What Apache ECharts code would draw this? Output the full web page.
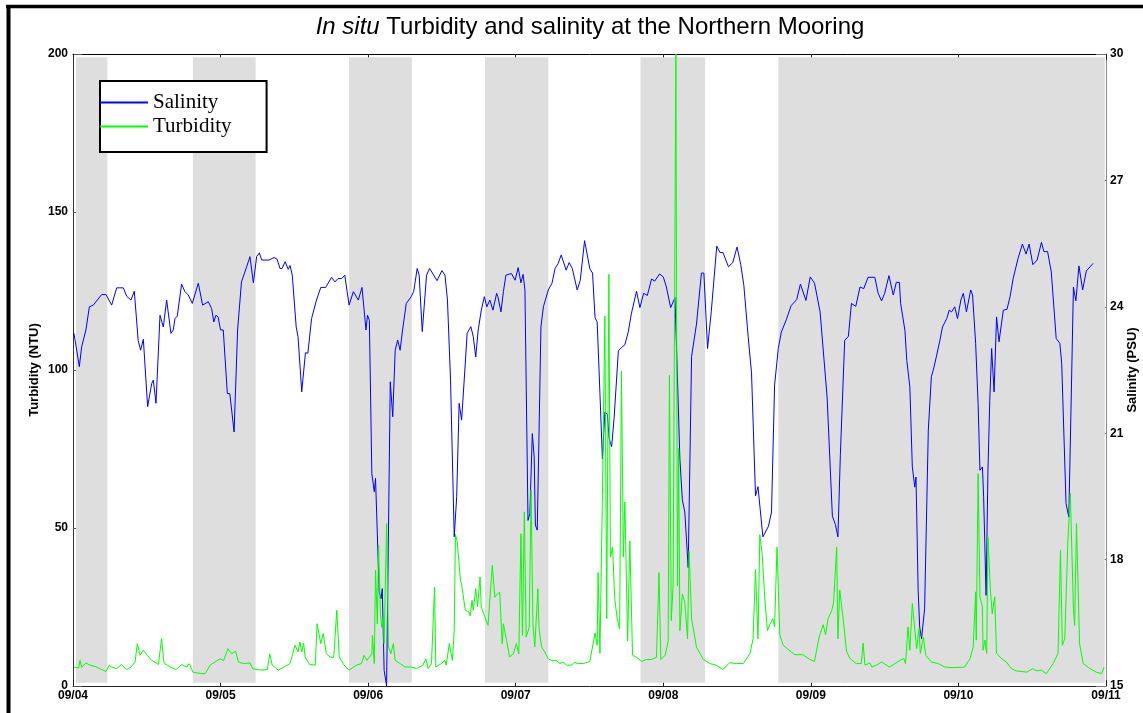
<!DOCTYPE html>
<html>
<head>
<meta charset="utf-8">
<title>In situ Turbidity and salinity</title>
<script src="https://cdn.jsdelivr.net/npm/echarts@6/dist/echarts.min.js"></script>
<style>
  html, body { margin: 0; padding: 0; background: #fff; }
  #chart { width: 1143px; height: 713px; }
</style>
</head>
<body>
<div id="chart"></div>
<script>
// x = hours since 09/04 00:00
var dayLabels = ['09/04', '09/05', '09/06', '09/07', '09/08', '09/09', '09/10', '09/11'];

// salinity (PSU) [hour, value]
var salinity = [
    [0.16,23.37],[1.03,22.58],[1.41,23.05],[2.1,23.45],[2.66,24.0],[3.3,24.04],[4.66,24.29],[5.37,24.29],
    [6.29,24.04],[7.1,24.45],[8.18,24.45],[8.73,24.25],[9.43,24.16],[9.97,24.37],[10.6,23.2],[11.0,22.97],
    [11.44,23.23],[12.14,21.63],[12.8,22.18],[13.06,22.26],[13.5,21.71],[14.15,23.8],[14.69,23.52],[15.23,24.16],
    [15.93,23.37],[16.3,23.45],[16.59,23.72],[16.96,23.78],[17.66,24.54],[18.2,24.36],[18.75,24.28],[19.4,24.08],
    [20.38,24.56],[21.08,24.04],[22.0,24.12],[22.55,23.96],[22.9,23.64],[23.25,23.8],[23.6,23.76],[24.0,23.45],
    [24.44,23.45],[25.1,21.94],[25.5,21.94],[26.2,21.03],[26.77,23.45],[27.4,24.59],[28.24,24.95],[28.78,25.19],
    [29.33,24.57],[29.87,25.19],[30.3,25.28],[30.7,25.11],[31.87,25.11],[32.7,25.17],[33.2,25.13],[33.66,24.91],
    [34.0,24.91],[34.5,25.07],[35.0,24.89],[35.3,24.98],[35.66,24.75],[36.3,23.52],[36.6,23.29],[37.2,21.98],
    [37.8,22.91],[38.2,22.9],[38.8,23.72],[39.6,24.16],[40.3,24.46],[41.1,24.46],[42.05,24.7],[42.6,24.59],
    [43.1,24.67],[43.7,24.67],[44.2,24.75],[44.9,24.04],[45.6,24.36],[46.4,24.16],[47.0,24.46],[47.65,23.45],
    [47.9,23.8],[48.2,23.68],[48.6,20.04],[49.0,19.61],[49.2,19.93],[49.8,17.23],[50.1,17.07],[50.3,17.31],
    [50.6,15.37],[51.0,15.0],[51.2,15.0],[51.6,22.22],[52.0,21.39],[52.4,22.97],[52.8,23.21],[53.2,22.97],
    [53.6,23.45],[54.2,24.08],[55.0,24.24],[55.4,24.36],[55.98,24.91],[56.3,24.75],[56.8,23.41],[57.5,24.75],
    [58.0,24.91],[59.2,24.62],[60.0,24.86],[60.5,24.75],[60.9,24.16],[61.4,22.26],[62.0,18.54],[62.4,19.49],
    [62.8,21.71],[63.2,21.31],[63.8,22.66],[64.1,23.37],[64.7,23.53],[65.1,23.29],[65.5,22.81],[65.9,23.45],
    [66.4,23.92],[66.9,24.24],[67.3,24.0],[67.8,24.16],[68.3,23.92],[68.9,24.32],[69.1,24.24],[69.6,23.88],
    [70.0,24.36],[70.4,24.75],[71.3,24.79],[71.9,24.63],[72.4,24.93],[72.85,24.57],[73.2,24.77],[73.5,24.4],
    [74.0,18.93],[74.3,19.09],[74.7,20.99],[75.0,20.44],[75.2,18.82],[75.5,18.7],[75.8,21.07],[76.1,23.52],
    [76.5,24.0],[77.3,24.4],[77.9,24.56],[78.4,24.91],[78.9,25.03],[79.4,25.23],[80.2,24.87],[80.7,25.05],
    [81.2,24.91],[82.0,24.4],[82.5,24.63],[83.2,25.57],[84.06,24.9],[84.5,24.8],[84.9,23.74],[85.25,23.64],
    [85.7,21.94],[86.1,20.39],[86.5,21.5],[86.9,21.45],[87.2,20.87],[87.6,20.68],[88.0,21.36],[88.7,22.96],
    [89.2,23.03],[89.75,23.1],[90.3,23.4],[90.8,23.83],[91.65,24.37],[92.2,23.98],[92.8,24.32],[93.4,24.27],
    [94.1,24.66],[94.6,24.61],[95.4,24.78],[96.0,24.71],[96.5,24.47],[97.2,23.98],[97.9,24.22],[98.3,22.33],
    [98.7,20.39],[99.1,19.42],[99.5,19.13],[100.05,17.81],[100.6,22.82],[101.4,23.59],[102.2,24.8],[102.6,24.8],
    [103.2,23.01],[103.8,23.88],[104.7,25.44],[105.2,25.29],[105.7,25.29],[106.6,24.95],[107.3,25.05],[108.0,25.42],
    [108.6,25.0],[109.1,24.51],[109.8,23.3],[110.35,22.43],[111.0,19.51],[111.4,19.73],[112.2,18.54],[113.1,18.79],
    [113.6,19.13],[114.1,22.14],[114.7,23.01],[115.2,23.4],[116.0,23.69],[116.8,24.03],[117.7,24.17],[118.3,24.54],
    [119.2,24.15],[119.9,24.71],[120.6,24.56],[121.5,23.88],[122.65,21.84],[123.5,19.03],[124.0,18.83],[124.4,18.54],
    [124.8,20.49],[125.5,23.2],[126.1,23.3],[126.6,24.08],[127.3,24.01],[128.0,24.47],[128.6,24.43],[129.3,24.7],
    [130.4,24.7],[130.95,24.32],[131.5,24.14],[132.0,24.32],[132.7,24.74],[133.4,24.28],[133.9,24.58],[134.4,24.58],
    [134.6,24.08],[135.3,23.44],[135.6,22.73],[136.1,22.1],[136.5,20.2],[136.9,19.72],[137.1,19.96],[137.45,17.27],
    [137.7,16.4],[138.0,16.12],[138.5,16.83],[139.1,21.07],[139.6,22.34],[139.9,22.49],[140.4,22.81],[141.0,23.21],
    [141.4,23.52],[142.1,23.72],[142.5,23.92],[142.9,23.88],[143.4,24.0],[143.85,23.72],[144.4,24.16],[144.8,24.32],
    [145.3,23.88],[146.0,24.4],[146.3,24.28],[146.8,23.13],[147.2,21.7],[147.5,20.12],[147.9,20.2],[148.1,19.49],
    [148.5,17.15],[148.8,20.12],[149.1,21.78],[149.4,23.01],[149.8,21.98],[150.2,23.76],[150.6,23.17],[151.3,23.92],
    [151.9,23.94],[152.4,24.24],[152.9,24.67],[153.7,25.15],[154.4,25.49],[155.0,25.25],[155.5,25.49],[156.1,25.0],
    [156.8,25.11],[157.5,25.53],[157.9,25.31],[158.5,25.31],[159.1,24.83],[159.9,23.25],[160.5,23.13],[160.8,22.65],
    [161.5,19.33],[161.95,19.01],[162.3,21.5],[162.7,24.47],[163.1,24.14],[163.6,24.97],[164.2,24.4],[164.8,24.85],
    [165.9,25.03]
];

// turbidity (NTU) [hour, value]
var turbidity = [
    [0.16,6.0],[0.9,5.7],[1.14,8.1],[1.41,5.9],[2.1,7.3],[2.76,6.6],[3.6,6.2],[4.66,5.2],[5.37,4.6],[5.9,6.6],
    [6.29,6.0],[7.1,5.5],[7.9,6.8],[8.7,5.2],[9.43,6.0],[10.1,7.6],[10.46,13.4],[10.9,9.7],[11.44,11.3],[12.1,9.7],
    [12.8,8.1],[13.9,6.8],[14.4,15.0],[14.8,7.3],[15.8,6.0],[16.76,5.2],[17.66,6.8],[18.5,6.0],[18.9,7.1],[19.5,4.4],
    [20.9,3.9],[21.5,3.9],[22.3,6.6],[23.1,7.6],[23.9,8.6],[24.5,8.1],[25.2,11.8],[25.8,10.2],[26.45,11.0],[26.9,7.6],
    [27.7,7.1],[28.8,7.3],[29.2,5.5],[29.9,5.2],[30.9,5.0],[31.6,5.2],[32.0,10.2],[32.4,6.6],[33.4,5.0],[34.2,5.9],
    [35.3,7.1],[35.6,6.6],[36.1,12.9],[36.6,10.8],[36.9,13.9],[37.2,10.8],[37.5,13.6],[37.75,9.2],[38.5,6.8],[39.4,6.6],
    [39.7,19.7],[40.3,13.4],[40.7,16.6],[41.2,10.2],[41.8,9.2],[42.4,9.0],[42.9,24.0],[43.3,9.2],[44.0,6.8],[44.9,5.0],
    [46.1,6.6],[46.9,7.1],[47.35,9.7],[47.8,8.1],[48.6,10.2],[48.7,16.0],[49.0,7.1],[49.2,36.6],[49.5,19.7],[49.7,44.5],
    [50.0,22.9],[50.2,18.6],[50.5,21.8],[50.6,13.4],[51.0,51.4],[51.3,12.4],[51.7,10.2],[52.1,13.4],[52.4,8.1],[53.2,7.1],
    [54.0,6.0],[55.0,6.0],[55.9,5.5],[56.9,6.6],[57.4,8.6],[57.75,5.5],[58.3,7.1],[58.8,31.3],[59.0,6.0],[59.9,7.1],
    [60.5,8.1],[60.7,6.6],[61.2,13.4],[61.4,13.0],[61.7,8.1],[62.0,17.6],[62.2,48.0],[62.5,45.6],[63.0,33.5],[63.2,32.2],
    [63.5,31.6],[63.8,24.0],[64.4,23.4],[64.6,22.2],[64.9,27.1],[65.1,24.0],[65.5,30.8],[65.8,25.0],[66.2,34.5],[66.4,25.0],
    [67.0,21.8],[67.5,19.2],[67.8,19.7],[68.2,38.2],[68.6,28.1],[69.0,29.1],[69.4,29.7],[69.8,13.4],[70.0,19.7],[70.5,14.5],
    [71.0,9.2],[71.6,10.2],[72.1,13.4],[72.5,10.2],[72.85,48.2],[73.1,16.0],[73.4,55.1],[73.7,15.5],[74.2,18.6],[74.5,62.0],
    [74.8,19.7],[75.1,12.4],[75.6,30.8],[75.8,18.0],[76.2,12.4],[76.7,10.8],[77.3,8.6],[77.8,8.1],[78.6,8.1],[79.2,7.1],
    [79.7,7.6],[80.3,6.6],[81.1,6.6],[81.6,7.6],[82.0,7.1],[83.0,7.1],[84.06,7.8],[84.9,16.8],[85.25,12.9],[85.4,35.9],
    [85.7,10.3],[86.1,60.2],[86.5,117.1],[86.8,21.3],[87.15,130.3],[87.4,40.8],[87.75,44.0],[88.1,27.8],[88.5,21.3],[88.9,18.1],
    [89.2,99.7],[89.5,40.8],[89.75,58.2],[90.2,14.2],[90.56,45.9],[91.0,9.7],[91.65,9.1],[92.5,7.8],[93.3,8.4],[94.1,8.4],
    [94.9,9.1],[95.3,35.9],[95.6,8.4],[96.3,9.7],[96.8,14.2],[97.0,98.4],[97.3,20.7],[97.6,31.7],[97.9,31.1],[98.05,200],
    [98.3,31.7],[98.5,75.1],[98.7,17.5],[99.1,29.1],[99.5,26.5],[99.95,14.9],[100.2,42.7],[100.6,21.3],[101.4,12.3],[102.5,8.4],
    [103.6,7.1],[104.7,6.5],[105.7,5.2],[106.8,7.4],[107.9,7.1],[109.0,7.1],[110.1,10.3],[110.6,14.9],[111.0,36.9],[111.4,14.9],
    [111.7,47.9],[112.1,41.4],[112.5,27.8],[112.95,17.5],[113.3,19.4],[113.8,21.3],[114.1,18.8],[114.5,44.0],[114.95,16.2],[115.5,12.9],
    [116.3,11.6],[117.4,9.9],[118.75,9.9],[119.8,8.4],[120.6,7.8],[121.35,15.5],[122.0,19.4],[122.4,16.2],[122.8,21.3],[123.4,23.9],
    [123.7,26.5],[124.2,44.0],[124.4,14.9],[124.7,30.4],[125.25,21.3],[125.8,11.0],[126.34,8.7],[127.4,7.1],[128.2,7.1],[128.5,13.6],
    [128.8,6.6],[129.6,7.3],[129.9,6.0],[130.7,6.6],[131.5,7.6],[132.8,6.0],[133.7,7.1],[134.5,8.1],[135.1,8.7],[135.4,7.1],
    [135.8,18.7],[136.1,11.3],[136.5,26.1],[136.8,25.6],[137.2,11.8],[137.6,18.2],[137.8,10.3],[138.3,15.5],[138.7,9.7],[139.6,7.6],
    [140.7,7.1],[141.8,6.0],[143.1,5.8],[145.0,6.0],[145.9,8.7],[146.4,12.4],[146.8,29.8],[146.9,14.5],[147.2,67.2],[147.5,28.2],
    [147.9,25.0],[148.0,11.3],[148.3,14.5],[148.6,10.3],[148.8,47.2],[149.2,30.3],[149.5,22.9],[149.9,28.2],[150.2,10.3],[151.0,8.7],
    [151.8,7.6],[152.6,5.5],[153.4,4.8],[155.1,4.4],[156.1,5.5],[156.7,4.8],[157.5,5.0],[158.3,3.9],[159.4,7.1],[160.2,10.3],
    [160.6,43.0],[160.9,12.9],[161.3,15.0],[161.8,46.1],[162.2,60.9],[162.7,24.5],[162.9,19.2],[163.2,51.4],[163.7,13.4],[164.3,7.1],
    [165.4,5.5],[166.4,4.4],[167.3,3.9],[167.7,6.0]
];

// shaded periods [start hour, end hour]
var shaded = [[0.5,5.6],[19.5,29.7],[44.9,55.1],[67.0,77.3],[92.3,102.8],[114.7,167.8]];

var fontSans = '"Liberation Sans", Arial, sans-serif';
var bands = [];
for (var i = 0; i < shaded.length; i++) {
    bands.push([{xAxis: shaded[i][0], yAxis: 1}, {xAxis: shaded[i][1], yAxis: 199}]);
}

var myChart = echarts.init(document.getElementById('chart'), null, {renderer: 'canvas'});
var option = {
    backgroundColor: '#fff',
    animation: false,
    grid: {left: 73, right: 37, top: 54, bottom: 27, containLabel: false, outerBoundsMode: 'none'},
    legend: {
        data: ['Salinity', 'Turbidity'],
        orient: 'vertical',
        left: 100,
        top: 81,
        padding: [11, 35, 15, 0],
        itemGap: 3,
        itemWidth: 48,
        itemHeight: 2,
        itemTextGap: 4,
        icon: 'rect',
        backgroundColor: '#fff',
        borderColor: '#000',
        borderWidth: 2,
        borderRadius: 0,
        selectedMode: false,
        textStyle: {fontFamily: '"Liberation Serif", "Times New Roman", serif', fontSize: 21, color: '#000'}
    },
    graphic: [
        {type: 'line', shape: {x1: 6, y1: 6.5, x2: 1143, y2: 6.5}, style: {stroke: '#000', lineWidth: 3.5}, z: 100},
        {type: 'line', shape: {x1: 8.5, y1: 5, x2: 8.5, y2: 713}, style: {stroke: '#000', lineWidth: 4}, z: 100},
        {
            type: 'text', x: 590, y: 27, z: 100,
            style: {
                text: '{i|In situ} Turbidity and salinity at the Northern Mooring',
                font: '24px ' + fontSans,
                fill: '#000',
                align: 'center',
                verticalAlign: 'middle',
                rich: {i: {fontStyle: 'italic', fontSize: 24, fontFamily: fontSans, fill: '#000'}}
            }
        }
    ],
    xAxis: [
        {
            type: 'value', min: 0, max: 168, interval: 24, position: 'bottom',
            axisLine: {onZero: false, lineStyle: {color: '#222', width: 1}},
            axisTick: {inside: true, length: 6, lineStyle: {color: '#222'}},
            splitLine: {show: false},
            axisLabel: {
                color: '#000', fontWeight: 'bold', fontSize: 12, fontFamily: fontSans, margin: 4,
                showMinLabel: true, showMaxLabel: true,
                formatter: function (v) { return dayLabels[Math.round(v / 24)]; }
            }
        },
        {
            type: 'value', min: 0, max: 168, interval: 24, position: 'top',
            axisLine: {onZero: false, lineStyle: {color: '#000', width: 1}},
            axisTick: {inside: true, length: 6, lineStyle: {color: '#222'}},
            splitLine: {show: false},
            axisLabel: {show: false}
        }
    ],
    yAxis: [
        {
            type: 'value', min: 0, max: 200, interval: 50, position: 'left',
            name: 'Turbidity (NTU)', nameLocation: 'middle', nameGap: 32, nameRotate: 90,
            nameMoveOverlap: false,
            nameTextStyle: {color: '#000', fontWeight: 'bold', fontSize: 13, fontFamily: fontSans},
            axisLine: {show: true, onZero: false, lineStyle: {color: '#333', width: 1}},
            axisTick: {show: true, inside: true, length: 9, lineStyle: {color: '#555'}},
            splitLine: {show: false},
            axisLabel: {color: '#000', fontWeight: 'bold', fontSize: 12, fontFamily: fontSans, margin: 5}
        },
        {
            type: 'value', min: 15, max: 30, interval: 3, position: 'right',
            name: 'Salinity (PSU)', nameLocation: 'middle', nameGap: 20, nameRotate: 90,
            nameMoveOverlap: false,
            nameTextStyle: {color: '#000', fontWeight: 'bold', fontSize: 13, fontFamily: fontSans},
            axisLine: {show: true, onZero: false, lineStyle: {color: '#888', width: 1}},
            axisTick: {show: true, inside: true, length: 10, lineStyle: {color: '#777'}},
            splitLine: {show: false},
            axisLabel: {color: '#000', fontWeight: 'bold', fontSize: 12, fontFamily: fontSans, margin: 4}
        }
    ],
    series: [
        {
            name: 'shade', type: 'line', xAxisIndex: 0, yAxisIndex: 0, data: [], z: 1,
            silent: true,
            markArea: {silent: true, itemStyle: {color: '#dedede', opacity: 1}, data: bands}
        },
        {
            name: 'Salinity', type: 'line', xAxisIndex: 0, yAxisIndex: 1, data: salinity,
            showSymbol: false, symbol: 'none', z: 3,
            lineStyle: {color: '#0000ff', width: 1},
            itemStyle: {color: '#0000ff'}
        },
        {
            name: 'Turbidity', type: 'line', xAxisIndex: 0, yAxisIndex: 0, data: turbidity,
            showSymbol: false, symbol: 'none', z: 3,
            lineStyle: {color: '#00ff00', width: 1},
            itemStyle: {color: '#00ff00'}
        }
    ]
};
myChart.setOption(option);
</script>
</body>
</html>
